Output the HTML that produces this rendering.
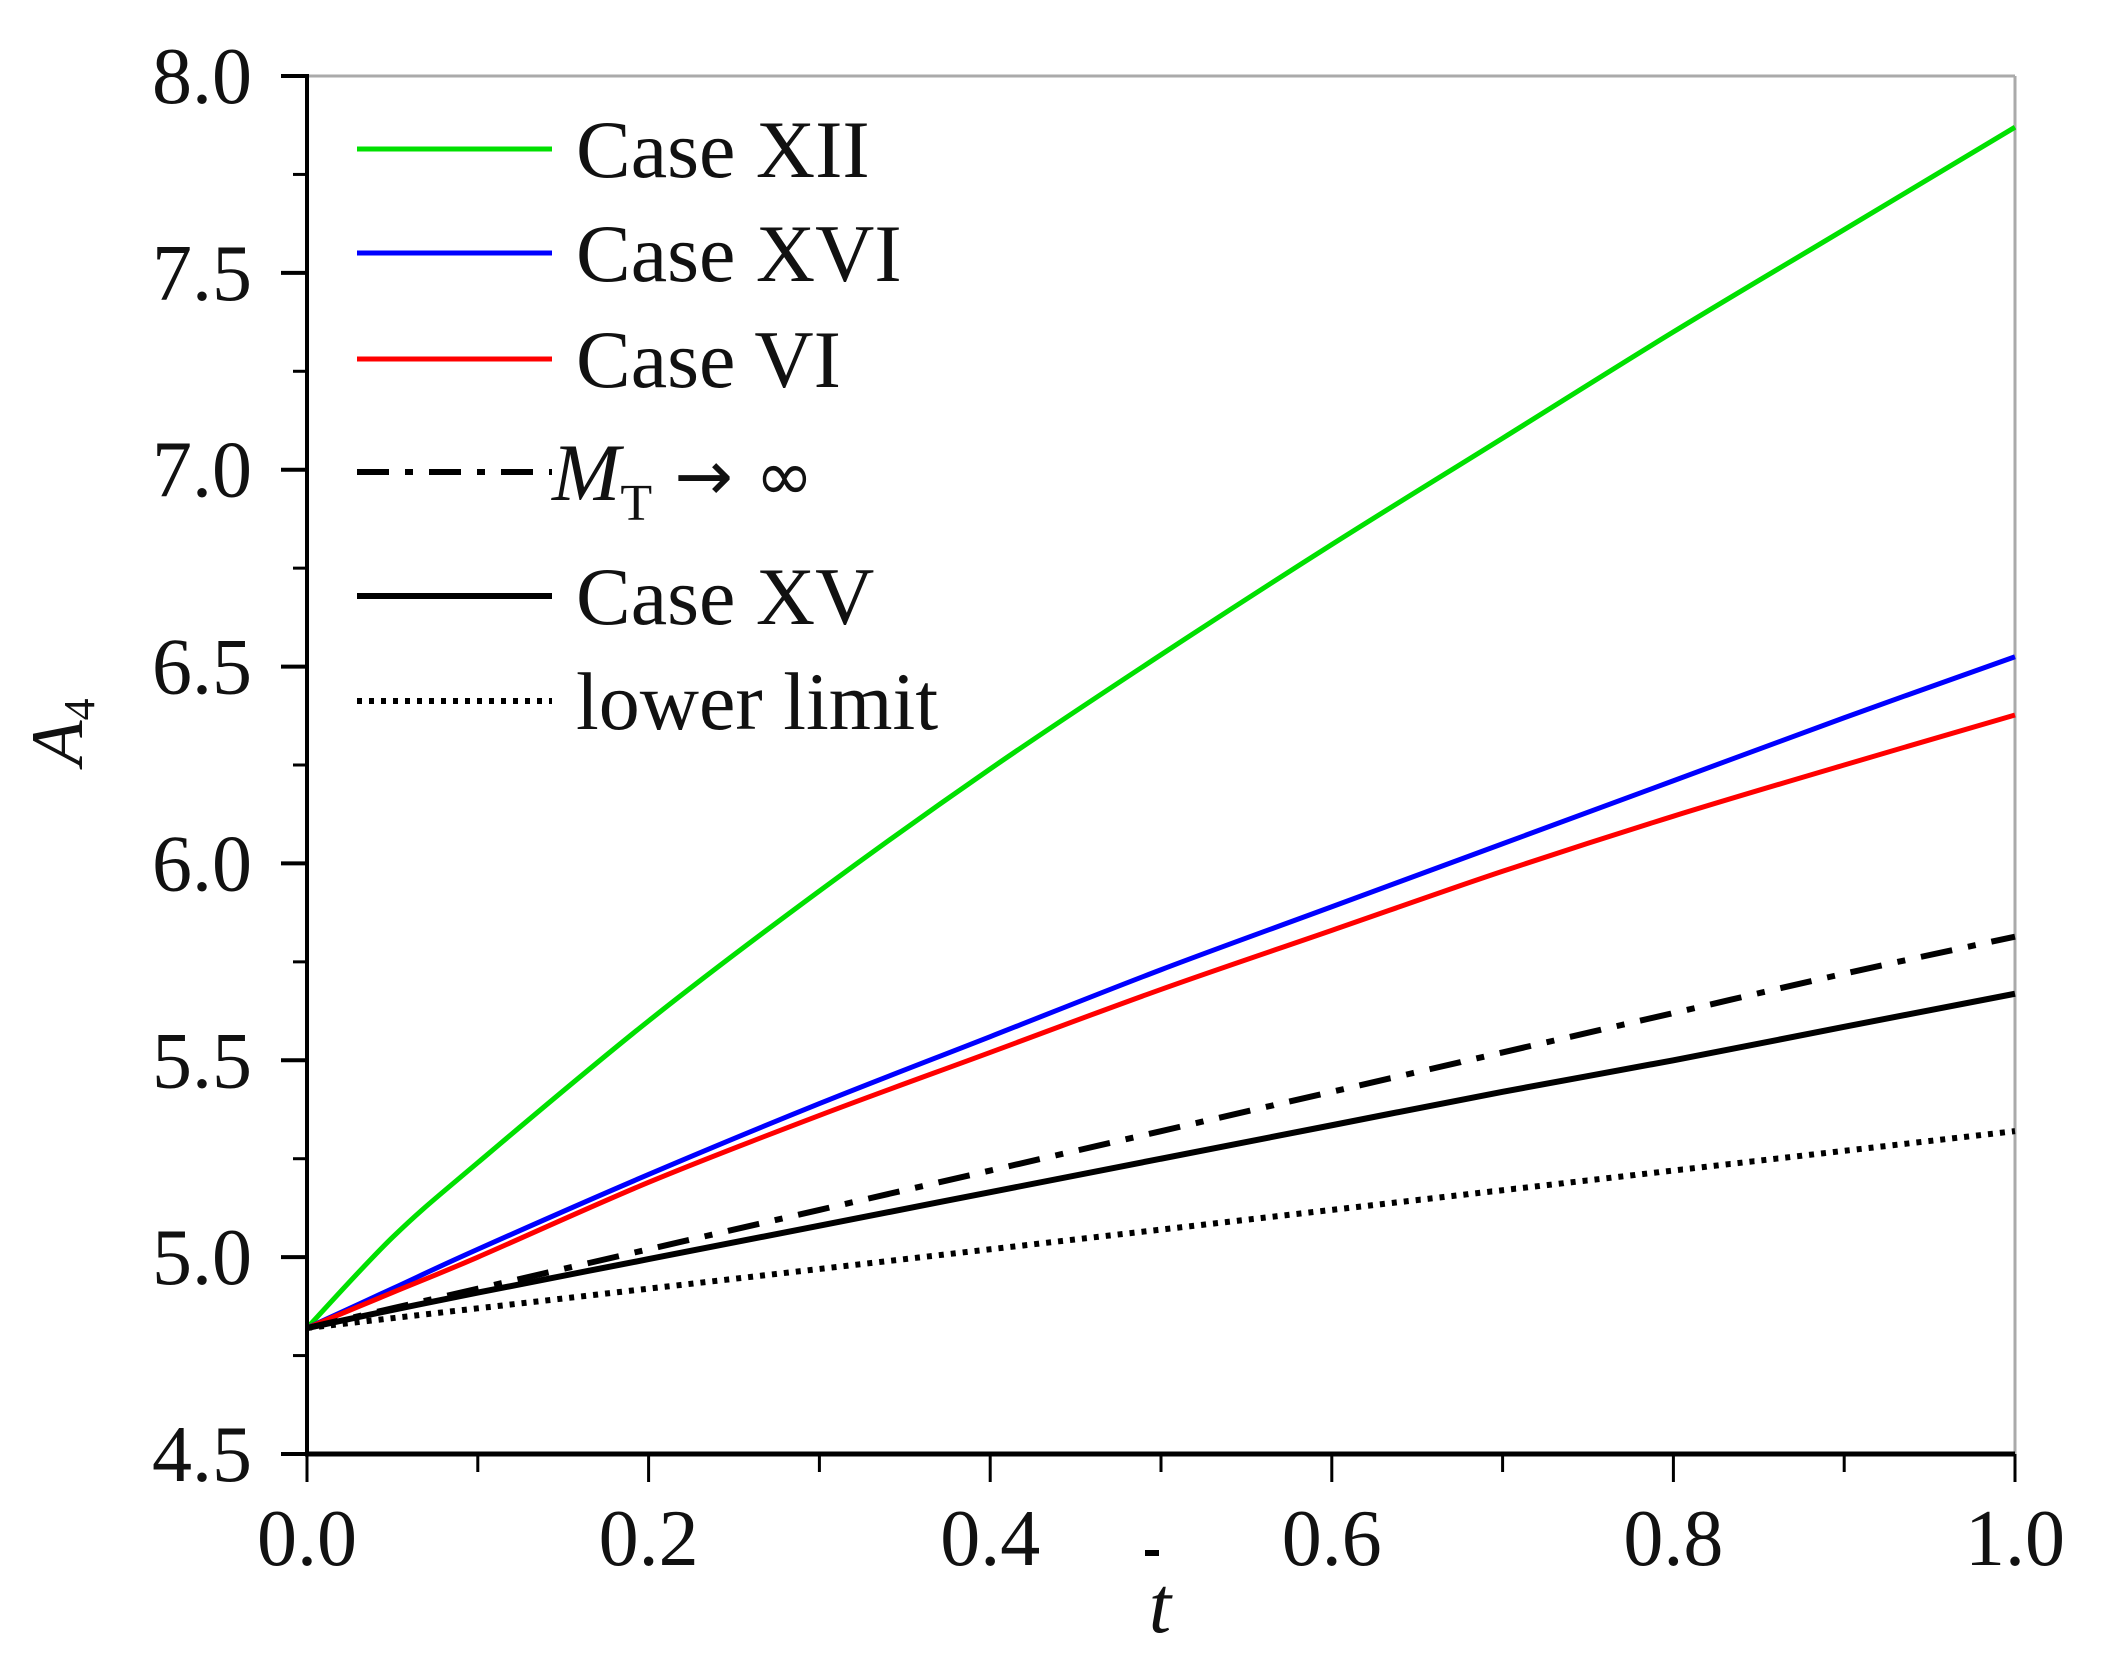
<!DOCTYPE html>
<html><head><meta charset="utf-8">
<style>
html,body{margin:0;padding:0;background:#fff;}
svg{display:block;}
text{font-family:"Liberation Serif",serif;fill:#111;}
</style></head>
<body>
<svg id="chart" width="2116" height="1670" viewBox="0 0 2116 1670" xmlns="http://www.w3.org/2000/svg">
<g id="plot"></g>
</svg>
<script>
const tValues = [0, 0.05, 0.1, 0.2, 0.3, 0.4, 0.5, 0.6, 0.7, 0.8, 0.9, 1.0];
const caseXII = [4.82, 5.05, 5.24, 5.60, 5.93, 6.24, 6.53, 6.81, 7.08, 7.35, 7.61, 7.87];
const caseXVI = [4.82, 4.92, 5.02, 5.21, 5.39, 5.56, 5.73, 5.89, 6.05, 6.21, 6.37, 6.525];
const caseVI  = [4.82, 4.91, 5.00, 5.19, 5.36, 5.52, 5.68, 5.83, 5.98, 6.12, 6.25, 6.377];
const mtInf   = [4.82, 4.87, 4.92, 5.02, 5.12, 5.22, 5.32, 5.42, 5.52, 5.62, 5.72, 5.814];
const caseXV  = [4.82, 4.866, 4.91, 4.995, 5.08, 5.165, 5.25, 5.335, 5.42, 5.50, 5.585, 5.669];
const lowerLimit = [4.82, 4.845, 4.87, 4.92, 4.97, 5.02, 5.07, 5.12, 5.17, 5.22, 5.27, 5.32];
const xTickLabels = ["0.0","0.2","0.4","0.6","0.8","1.0"];
const yTickLabels = ["4.5","5.0","5.5","6.0","6.5","7.0","7.5","8.0"];

const X0=307, X1=2015, Y0=1454, Y1=76, XMIN=0, XMAX=1, YMIN=4.5, YMAX=8.0;
const sx = v => X0 + (v-XMIN)/(XMAX-XMIN)*(X1-X0);
const sy = v => Y0 - (v-YMIN)/(YMAX-YMIN)*(Y0-Y1);
const NS="http://www.w3.org/2000/svg";
const g=document.getElementById('plot');
function mk(tag, attrs, parent){const e=document.createElementNS(NS,tag);for(const k in attrs)e.setAttribute(k,attrs[k]);(parent||g).appendChild(e);return e;}

let e;
e=mk('line',{x1:X0,y1:Y1,x2:X1,y2:Y1,stroke:'#aaa','stroke-width':3});


e=mk('line',{x1:X1,y1:Y1,x2:X1,y2:Y0,stroke:'#aaa','stroke-width':3});



const series=[
 {name:'series-case-xii',data:caseXII,color:'#00e000',dash:null,w:5},
 {name:'series-case-xvi',data:caseXVI,color:'#0000ff',dash:null,w:5},
 {name:'series-case-vi',data:caseVI,color:'#ff0000',dash:null,w:5},
 {name:'series-mt-infinity',data:mtInf,color:'#000',dash:'32 16 8 16',w:6},
 {name:'series-case-xv',data:caseXV,color:'#000',dash:null,w:6},
 {name:'series-lower-limit',data:lowerLimit,color:'#000',dash:'5 7',w:6}
];
function pathFor(vals){
  const pts=tValues.map((t,i)=>[sx(t),sy(vals[i])]);
  let d='M'+pts[0][0]+','+pts[0][1];
  for(let i=0;i<pts.length-1;i++){
    const p0=pts[i-1]||pts[i],p1=pts[i],p2=pts[i+1],p3=pts[i+2]||p2;
    const c1x=p1[0]+(p2[0]-p0[0])/6,c1y=p1[1]+(p2[1]-p0[1])/6;
    const c2x=p2[0]-(p3[0]-p1[0])/6,c2y=p2[1]-(p3[1]-p1[1])/6;
    d+=` C${c1x},${c1y} ${c2x},${c2y} ${p2[0]},${p2[1]}`;
  }
  return d;
}
series.forEach(s=>{
  const a={d:pathFor(s.data),fill:'none',stroke:s.color,'stroke-width':s.w};
  if(s.dash)a['stroke-dasharray']=s.dash;
  const p=mk('path',a);
  
  
});

e=mk('line',{x1:X0,y1:Y1-2,x2:X0,y2:Y0+2,stroke:'#000','stroke-width':4});


e=mk('line',{x1:X0-2,y1:Y0,x2:X1,y2:Y0,stroke:'#000','stroke-width':5});



yTickLabels.forEach((lab)=>{
  const v=parseFloat(lab),y=sy(v);
  const t=mk('line',{x1:X0-26,y1:y,x2:X0,y2:y,stroke:'#000','stroke-width':4});
  
  
  const tx=mk('text',{x:252,y:y+27,'text-anchor':'end','font-size':80});
  tx.textContent=lab;
  
  
  if(v<YMAX){
    const m=mk('line',{x1:X0-14,y1:sy(v+0.25),x2:X0,y2:sy(v+0.25),stroke:'#000','stroke-width':3});
    
    
  }
});
xTickLabels.forEach((lab)=>{
  const v=parseFloat(lab),x=sx(v);
  const t=mk('line',{x1:x,y1:Y0,x2:x,y2:Y0+28,stroke:'#000','stroke-width':3});
  
  
  const tx=mk('text',{x:x,y:1565,'text-anchor':'middle','font-size':80});
  tx.textContent=lab;
  
  
  if(v<XMAX){
    const m=mk('line',{x1:sx(v+0.1),y1:Y0,x2:sx(v+0.1),y2:Y0+18,stroke:'#000','stroke-width':3});
    
    
  }
});

e=mk('text',{x:1160,y:1632,'text-anchor':'middle','font-size':80,'font-style':'italic'});
e.textContent='t';


e=mk('line',{x1:1145,y1:1553,x2:1159,y2:1553,stroke:'#000','stroke-width':6});


e=mk('text',{x:0,y:0,transform:'translate(82,732) rotate(-90)','text-anchor':'middle','font-size':74,'font-style':'italic'});
e.innerHTML='A<tspan font-size="44" font-style="normal" dy="12">4</tspan>';



const legend=mk('g',{});


const legendRows=[149,253,359,472,596,701];
const legendTexts=['Case XII','Case XVI','Case VI',null,'Case XV','lower limit'];
series.forEach((s,i)=>{
  const y=legendRows[i];
  const a={x1:357,y1:y,x2:552,y2:y,stroke:s.color,'stroke-width':s.w};
  if(s.dash)a['stroke-dasharray']=s.dash;
  const l=mk('line',a,legend);
  
  
  const tx=mk('text',{x:i===3?552:576,y:y+28,'font-size':82},legend);
  if(legendTexts[i]) tx.textContent=legendTexts[i];
  else tx.innerHTML='<tspan font-style="italic">M</tspan><tspan font-size="52" dy="20">T</tspan><tspan dy="-20" font-family="DejaVu Sans" font-size="70"> → ∞</tspan>';
  
  
});
</script>
</body></html>
